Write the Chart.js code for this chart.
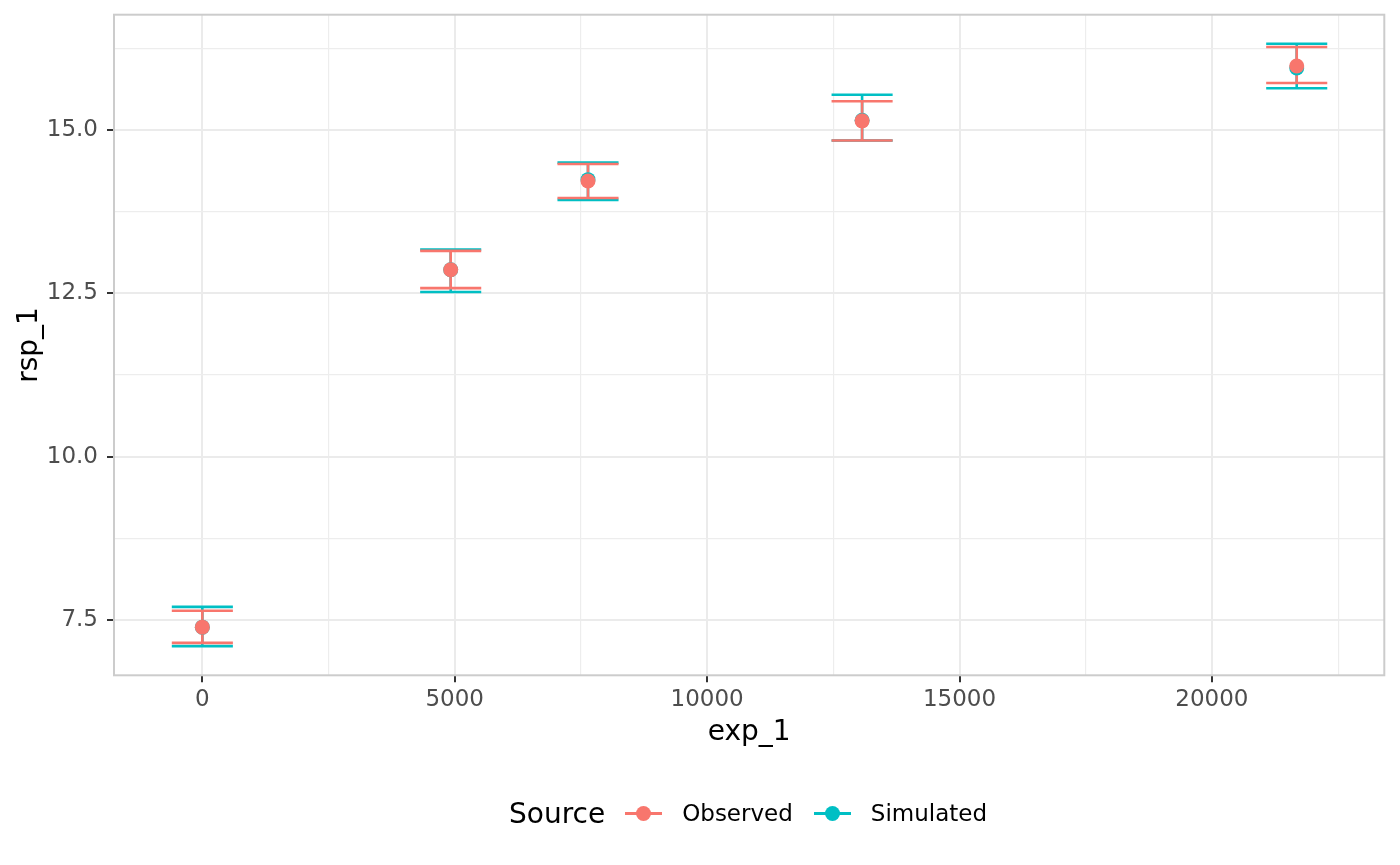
<!DOCTYPE html>
<html>
<head>
<meta charset="utf-8">
<script src="https://cdn.jsdelivr.net/npm/chart.js@4/dist/chart.umd.min.js"></script>
<style>
  body { margin: 0; background: #fff; }
  #wrap { position: relative; width: 1400px; height: 865px; }
  #legend {
    position: absolute; left: 509px; top: 793px; height: 40px;
    display: flex; align-items: center;
    font-family: "DejaVu Sans", sans-serif; color: #000;
  }
  #legend .title { font-size: 28px; margin-right: 20px; }
  #legend .key { position: relative; width: 37px; height: 40px; margin-right: 20px; }
  #legend .key .ln { position: absolute; left: 0; right: 0; top: 18.5px; height: 3px; }
  #legend .key .dot { position: absolute; left: 11px; top: 12.5px; width: 15px; height: 15px; border-radius: 50%; }
  #legend .lab { font-size: 23px; margin-right: 21px; }
</style>
</head>
<body>
<div id="wrap">
  <canvas id="chart" width="1400" height="865"></canvas>
  <div id="legend"></div>
</div>
<script>
// values
const expValues = [0, 4920, 7640, 13070, 21680];

const obsMean  = [7.39, 12.86, 14.22, 15.14, 15.98];
const obsLower = [7.15, 12.58, 13.96, 14.84, 15.72];
const obsUpper = [7.64, 13.15, 14.48, 15.44, 16.27];

const simMean  = [7.39, 12.86, 14.24, 15.15, 15.95];
const simLower = [7.10, 12.52, 13.93, 14.84, 15.64];
const simUpper = [7.70, 13.17, 14.50, 15.54, 16.32];

const xMajorTicks = [0, 5000, 10000, 15000, 20000];
const xMinorTicks = [2500, 7500, 12500, 17500, 22500];
const yMajorTicks = [7.5, 10.0, 12.5, 15.0];
const yMinorTicks = [8.75, 11.25, 13.75, 16.25];

const seriesNames = ['Observed', 'Simulated'];
const seriesColors = ['#F8766D', '#00BFC4'];

const capHalf = 605; // error bar cap half width in x units

function toPoints(xs, ys) {
  return xs.map((x, i) => ({ x: x, y: ys[i] }));
}

const errorBars = {
  id: 'errorBars',
  beforeDatasetsDraw(chart) {
    const ctx = chart.ctx;
    const xs = chart.scales.x;
    const ys = chart.scales.y;
    const sets = [
      { lo: simLower, hi: simUpper, color: seriesColors[1] },
      { lo: obsLower, hi: obsUpper, color: seriesColors[0] }
    ];
    ctx.save();
    ctx.lineWidth = 2.6;
    sets.forEach(s => {
      ctx.strokeStyle = s.color;
      expValues.forEach((v, i) => {
        const px = xs.getPixelForValue(v);
        const pl = xs.getPixelForValue(v - capHalf);
        const pr = xs.getPixelForValue(v + capHalf);
        const top = ys.getPixelForValue(s.hi[i]);
        const bot = ys.getPixelForValue(s.lo[i]);
        ctx.beginPath();
        ctx.moveTo(px, top); ctx.lineTo(px, bot);
        ctx.moveTo(pl, top); ctx.lineTo(pr, top);
        ctx.moveTo(pl, bot); ctx.lineTo(pr, bot);
        ctx.stroke();
      });
    });
    ctx.restore();
  },
  afterDraw(chart) {
    const { left, top, width, height } = chart.chartArea;
    const ctx = chart.ctx;
    ctx.save();
    ctx.strokeStyle = '#CCCCCC';
    ctx.lineWidth = 2;
    ctx.strokeRect(left, top, width, height);
    ctx.restore();
  }
};

const tickFont = { family: 'DejaVu Sans', size: 23 };
const titleFont = { family: 'DejaVu Sans', size: 28, lineHeight: 1.2 };

function gridOpts(major) {
  return {
    color: (c) => major.includes(c.tick.value) ? '#EBEBEB' : '#EDEDED',
    lineWidth: (c) => major.includes(c.tick.value) ? 2 : 1.2,
    tickColor: (c) => major.includes(c.tick.value) ? '#333333' : 'rgba(0,0,0,0)',
    tickWidth: 2,
    tickLength: 7
  };
}

function noEdgePadding(scale) {
  scale.paddingTop = 0;
  scale.paddingBottom = 0;
  scale.paddingLeft = 0;
  scale.paddingRight = 0;
}

new Chart(document.getElementById('chart').getContext('2d'), {
  type: 'scatter',
  data: {
    datasets: [
      {
        label: seriesNames[0],
        data: toPoints(expValues, obsMean),
        backgroundColor: seriesColors[0],
        borderWidth: 0,
        pointRadius: 7.5
      },
      {
        label: seriesNames[1],
        data: toPoints(expValues, simMean),
        backgroundColor: seriesColors[1],
        borderWidth: 0,
        pointRadius: 7.5
      }
    ]
  },
  options: {
    responsive: false,
    animation: false,
    devicePixelRatio: 1,
    layout: { padding: { top: 14.7, right: 15.7, left: 0, bottom: 105 } },
    plugins: {
      legend: { display: false },
      tooltip: { enabled: false }
    },
    scales: {
      x: {
        type: 'linear',
        min: -1750,
        max: 23415,
        afterBuildTicks: (scale) => {
          scale.ticks = [...xMajorTicks, ...xMinorTicks].sort((a, b) => a - b).map(v => ({ value: v }));
        },
        afterFit: (scale) => { scale.height = 84.7; noEdgePadding(scale); },
        grid: gridOpts(xMajorTicks),
        border: { display: false },
        ticks: {
          autoSkip: false,
          maxRotation: 0,
          padding: 4,
          color: '#4D4D4D',
          font: tickFont,
          callback: (v) => xMajorTicks.includes(v) ? String(v) : ''
        },
        title: {
          display: true,
          text: 'exp_1',
          color: '#000',
          font: titleFont,
          padding: { top: 0, bottom: 10 }
        }
      },
      y: {
        type: 'linear',
        min: 6.653,
        max: 16.765,
        afterBuildTicks: (scale) => {
          scale.ticks = [...yMajorTicks, ...yMinorTicks].sort((a, b) => a - b).map(v => ({ value: v }));
        },
        afterFit: (scale) => { scale.width = 114; noEdgePadding(scale); },
        grid: gridOpts(yMajorTicks),
        border: { display: false },
        ticks: {
          autoSkip: false,
          padding: 9,
          color: '#4D4D4D',
          font: tickFont,
          callback: (v) => yMajorTicks.includes(v) ? v.toFixed(1) : ''
        },
        title: {
          display: true,
          text: 'rsp_1',
          color: '#000',
          font: titleFont,
          padding: { top: 13, bottom: 0 }
        }
      }
    }
  },
  plugins: [errorBars]
});

// legend: "Source" with line + dot keys
const legend = document.getElementById('legend');
let html = '<span class="title">Source</span>';
seriesNames.forEach((name, i) => {
  html += '<span class="key"><span class="ln" style="background:' + seriesColors[i] + '"></span>' +
          '<span class="dot" style="background:' + seriesColors[i] + '"></span></span>' +
          '<span class="lab">' + name + '</span>';
});
legend.innerHTML = html;
</script>
</body>
</html>
